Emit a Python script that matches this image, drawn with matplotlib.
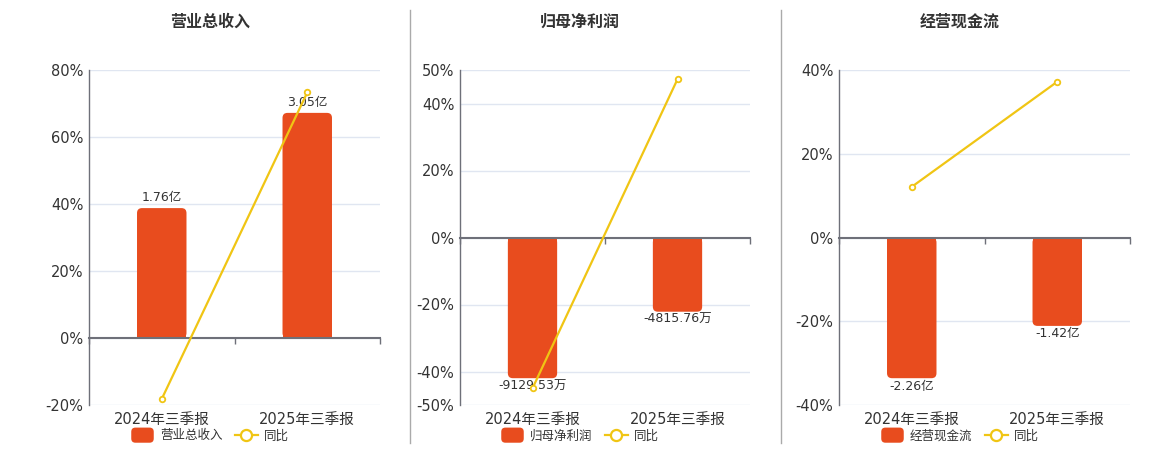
import matplotlib
matplotlib.use("Agg")
import matplotlib.pyplot as plt
from matplotlib.patches import FancyBboxPatch, Rectangle
from matplotlib.lines import Line2D
from matplotlib.legend_handler import HandlerPatch
from matplotlib.ticker import FuncFormatter

plt.rcParams['font.family'] = ['DejaVu Sans', 'Noto Sans CJK SC']

# ---------------- data ----------------
categories = ["2024年三季报", "2025年三季报"]
titles = ["营业总收入", "归母净利润", "经营现金流"]
units = ["亿", "万", "亿"]
revenue = [1.76, 3.05]
revenue_yoy = [-18.2, 73.3]
net_profit = [-9129.53, -4815.76]
net_profit_yoy = [-45.0, 47.25]
cash_flow = [-2.26, -1.42]
cash_flow_yoy = [12.1, 37.2]
yoy_label = "同比"
pct_ticks = [
    [-20, 0, 20, 40, 60, 80],
    [-50, -40, -20, 0, 20, 40, 50],
    [-40, -20, 0, 20, 40],
]
bar_values = [revenue, net_profit, cash_flow]
yoy_values = [revenue_yoy, net_profit_yoy, cash_flow_yoy]

# ---------------- style ----------------
W, H = 1160, 450
BAR_C = "#E84C1E"
LINE_C = "#F0C514"
TXT = "#333333"
AXIS_C = "#6E7079"
GRID_C = "#E0E6F1"
axes_px = [(89, 380), (460, 750), (839, 1130)]
title_cx = [210, 580, 960]
top_px, bot_px = 70, 405
bar_w = 0.34
fill_frac = 0.84
radius_px = 5

fig = plt.figure(figsize=(W / 100, H / 100), dpi=100)


class RoundHandler(HandlerPatch):
    def create_artists(self, legend, orig_handle, xdescent, ydescent,
                       width, height, fontsize, trans):
        p = FancyBboxPatch((-xdescent, -ydescent - 2), width, height + 4,
                           boxstyle="round,pad=0,rounding_size=3",
                           facecolor=BAR_C, edgecolor="none", transform=trans)
        return [p]


def rounded_bars(ax, rects, vals, unit):
    fig.canvas.draw()
    bb = ax.get_window_extent()
    x0, x1 = ax.get_xlim()
    y0, y1 = ax.get_ylim()
    xpp = (x1 - x0) / bb.width
    ypp = (y1 - y0) / bb.height
    for r, v in zip(rects, vals):
        x, w = r.get_x(), r.get_width()
        yb, h = r.get_y(), r.get_height()
        lo, hh = min(yb, yb + h), abs(h)
        r.set_visible(False)
        ax.add_patch(FancyBboxPatch((x, lo), w, hh,
                                    boxstyle=f"round,pad=0,rounding_size={radius_px * xpp}",
                                    mutation_aspect=ypp / xpp,
                                    facecolor=BAR_C, edgecolor="none", zorder=2))
        sq_y = 0 if v >= 0 else -hh / 2
        ax.add_patch(Rectangle((x, sq_y), w, hh / 2, facecolor=BAR_C,
                               edgecolor="none", zorder=2))
        if v >= 0:
            ax.annotate(f"{v:.2f}{unit}", (x + w / 2, v), xytext=(0, 3),
                        textcoords="offset points", ha="center", va="bottom",
                        fontsize=9, color=TXT, zorder=5)
        else:
            ax.annotate(f"{v:.2f}{unit}", (x + w / 2, v), xytext=(0, -1),
                        textcoords="offset points", ha="center", va="top",
                        fontsize=9, color=TXT, zorder=5)


for i in range(3):
    l, r = axes_px[i]
    rect = [l / W, (H - bot_px) / H, (r - l) / W, (bot_px - top_px) / H]
    ticks = pct_ticks[i]
    lo, hi = min(ticks), max(ticks)
    xs = list(range(len(categories)))
    xl = (-0.5, len(categories) - 0.5)

    base = fig.add_axes(rect, label=f"base{i}")
    base.set_xlim(*xl)
    base.set_ylim(lo, hi)
    base.set_yticks(ticks)
    base.yaxis.set_major_formatter(FuncFormatter(lambda v, p: f"{v:.0f}%"))
    base.set_xticks(xs)
    base.set_xticklabels(categories)
    base.tick_params(axis="x", length=0, pad=5, labelsize=10.5, labelcolor=TXT)
    base.tick_params(axis="y", length=0, pad=4, labelsize=10.5, labelcolor=TXT)
    base.grid(axis="y", color=GRID_C, linewidth=1)
    base.set_axisbelow(True)
    for s in ["top", "right", "bottom"]:
        base.spines[s].set_visible(False)
    base.spines["left"].set_color(AXIS_C)
    base.spines["left"].set_linewidth(1)

    # bar axis (independent overlay)
    vals = bar_values[i]
    m = max(abs(v) for v in vals)
    side = hi if max(vals, key=abs) > 0 else -lo
    k = m / (fill_frac * side)
    bax = fig.add_axes(rect, label=f"bar{i}")
    bax.patch.set_visible(False)
    bax.set_ylim(lo * k, hi * k)
    bax.set_xlim(*xl)
    bax.axis("off")
    rects = bax.bar(xs, vals, width=bar_w, color=BAR_C, zorder=2)
    rounded_bars(bax, rects, vals, units[i])

    # line axis (independent overlay)
    lax = fig.add_axes(rect, label=f"line{i}")
    lax.patch.set_visible(False)
    lax.set_ylim(lo, hi)
    lax.set_xlim(*xl)
    lax.set_yticks([])
    for s in ["top", "right", "left"]:
        lax.spines[s].set_visible(False)
    lax.spines["bottom"].set_position(("data", 0))
    lax.spines["bottom"].set_color(AXIS_C)
    lax.spines["bottom"].set_linewidth(1.5)
    lax.set_xticks([xl[0] + j for j in range(len(categories) + 1)])
    lax.set_xticklabels([])
    lax.tick_params(axis="x", direction="out", length=4, color=AXIS_C, width=1)
    lax.plot(xs, yoy_values[i], color=LINE_C, linewidth=1.6, marker="o",
             markersize=4, markerfacecolor="white", markeredgecolor=LINE_C,
             markeredgewidth=1.3, zorder=4, clip_on=False)

    # title
    fig.text(title_cx[i] / W, 1 - 22 / H, titles[i], ha="center", va="center",
             fontsize=11.5, fontweight="bold", color=TXT)

    # legend
    bar_handle = Rectangle((0, 0), 1, 1, facecolor=BAR_C)
    line_handle = Line2D([], [], color=LINE_C, linewidth=1.6, marker="o",
                         markersize=8, markerfacecolor="white",
                         markeredgecolor=LINE_C, markeredgewidth=1.6)
    fig.legend([bar_handle, line_handle], [titles[i], yoy_label], ncol=2,
               loc="center", bbox_to_anchor=(title_cx[i] / W, 14 / H),
               frameon=False, fontsize=9, labelcolor=TXT,
               handlelength=1.8, handleheight=0.8, handletextpad=0.5,
               columnspacing=1.0, borderpad=0,
               handler_map={Rectangle: RoundHandler()})

# separators
for xp in [410, 781]:
    fig.add_artist(Line2D([xp / W, xp / W], [1 - 10 / H, 1 - 443 / H],
                          color="#AAAAAA", linewidth=1))

fig.savefig("out.png", dpi=100)
